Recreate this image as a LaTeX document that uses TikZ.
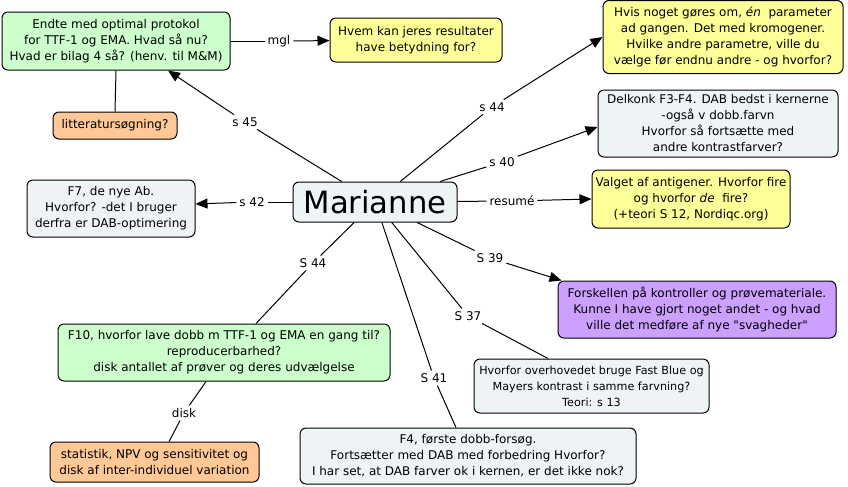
\documentclass[tikz,border=0pt]{standalone}
\usepackage{fontspec}
\setmainfont{DejaVu Sans}
\newfontfamily\qfont{DejaVu Sans}[Ligatures=ResetAll]
\usetikzlibrary{arrows.meta}
\definecolor{cgreen}{RGB}{204,255,204}
\definecolor{cyellow}{RGB}{255,255,153}
\definecolor{corange}{RGB}{255,200,150}
\definecolor{cgray}{RGB}{238,243,245}
\definecolor{cpurple}{RGB}{204,160,255}
\tikzset{
  box/.style={draw=black, line width=0.75pt, rounded corners=4.5pt, align=center,
    inner sep=0pt, font=\fontsize{9}{12}\selectfont},
  lbl/.style={inner sep=2pt, font=\fontsize{9}{11}\selectfont},
  link/.style={line width=0.75pt},
  arr/.style={line width=0.75pt, -{Triangle[length=9pt,width=7.5pt]}}
}
\begin{document}
\begin{tikzpicture}[x=0.75pt,y=-0.75pt]
\fill[white] (0,0) rectangle (848,486);
\useasboundingbox (0,0) rectangle (848,486);

% nodes
\node[box, fill=cgreen, minimum width=171pt, minimum height=43.5pt] (b1) at (116,41)
  {Endte med optimal protokol\\ for TTF-1 og EMA. Hvad så nu?\\ Hvad er bilag 4 så? (henv. til M\&M)};
\node[box, fill=cyellow, minimum width=129pt, minimum height=33pt] (b2) at (416,40)
  {Hvem kan jeres resultater\\ have betydning for?};
\node[box, fill=corange, minimum width=93pt, minimum height=20.25pt] (lit) at (115,125.5)
  {litteratursøgning?};
\node[box, fill=cyellow, minimum width=180pt, minimum height=54.75pt] (b4) at (723,37)
  {Hvis noget gøres om, \textit{én}\ \ parameter\\ ad gangen. Det med kromogener.\\ Hvilke andre parametre, ville du\\ vælge før endnu andre - og hvorfor?};
\node[box, fill=cgray, minimum width=180pt, minimum height=50.25pt] (b5) at (718,123.5)
  {Delkonk F3-F4. DAB bedst i kernerne\\ -også v dobb.farvn\\ Hvorfor så fortsætte med\\ andre kontrastfarver?};
\node[box, fill=cyellow, minimum width=148.5pt, minimum height=43.5pt] (b6) at (691,199)
  {Valget af antigener. Hvorfor fire\\ og hvorfor \textit{de}\ \ fire?\\ (+teori S 12, Nordiqc.org)};
\node[box, fill=cgray, minimum width=123pt, minimum height=30pt, font=\fontsize{23}{26}\selectfont] (M) at (375,202)
  {Marianne};
\node[box, fill=cgray, minimum width=126pt, minimum height=42.75pt] (f7) at (111,208.5)
  {F7, de nye Ab.\\ Hvorfor? -det I bruger\\ derfra er DAB-optimering};
\node[box, fill=cpurple, minimum width=208.5pt, minimum height=42.75pt] (pu) at (697,309.5)
  {Forskellen på kontroller og prøvemateriale.\\ Kunne I have gjort noget andet - og hvad\\ ville det medføre af nye {\qfont"}svagheder{\qfont"}};
\node[box, fill=cgray, minimum width=176.25pt, minimum height=40.5pt, font=\fontsize{8.4}{12}\selectfont] (hv) at (591.5,386)
  {Hvorfor overhovedet bruge Fast Blue og\\ Mayers kontrast i samme farvning?\\ Teori: s 13};
\node[box, fill=cgreen, minimum width=249pt, minimum height=42.75pt] (f10) at (224,352.5)
  {F10, hvorfor lave dobb m TTF-1 og EMA en gang til?\\ reproducerbarhed?\\ disk antallet af prøver og deres udvælgelse};
\node[box, fill=corange, minimum width=156.75pt, minimum height=30pt] (st) at (154.5,462)
  {statistik, NPV og sensitivitet og\\ disk af inter-individuel variation};
\node[box, fill=cgray, minimum width=252pt, minimum height=42pt] (f4) at (468,456)
  {F4, første dobb-forsøg.\\ Fortsætter med DAB med forbedring Hvorfor?\\ I har set, at DAB farver ok i kernen, er det ikke nok?};

% labels
\node[lbl] (lmgl) at (279,41) {mgl};
\node[lbl] (l45) at (245,122) {s 45};
\node[lbl] (l44a) at (492,107) {s 44};
\node[lbl] (l40) at (502,162) {s 40};
\node[lbl] (lres) at (512,201) {resumé};
\node[lbl] (l42) at (252,202) {s 42};
\node[lbl] (l39) at (490,258) {S 39};
\node[lbl] (l37) at (468,316) {S 37};
\node[lbl] (l41) at (434,378) {S 41};
\node[lbl] (l44b) at (313,263) {S 44};
\node[lbl] (ldisk) at (184,413) {disk};

% connectors
\draw[link] (b1) -- (lmgl);
\draw[arr] (lmgl) -- (b2);
\draw[link] (lit.north) -- (b1.south);

\draw[link] (M) -- (l45);
\draw[arr] (l45) -- ([xshift=39pt]b1.south);

\draw[link] (M) -- (l44a);
\draw[arr] (l44a) -- (b4.west);

\draw[link] (M) -- (l40);
\draw[arr] (l40) -- ([yshift=-2.6pt]b5.west);

\draw[link] (M) -- (lres);
\draw[arr] (lres) -- (b6.west);

\draw[link] (M) -- (l42);
\draw[arr] (l42) -- ([yshift=3.4pt]f7.east);

\draw[link] (M) -- (l39);
\draw[arr] (l39) -- ([xshift=3pt]pu.north west);

\draw[link] (M) -- (l37);
\draw[link] (l37) -- ([xshift=-32.6pt]hv.north);

\draw[link] (M) -- (l41);
\draw[link] (l41) -- ([xshift=-9pt]f4.north);

\draw[link] (M) -- (l44b);
\draw[link] (l44b) -- ([xshift=24pt]f10.north);

\draw[link] ([xshift=-13.5pt]f10.south) -- (ldisk);
\draw[link] (ldisk) -- ([xshift=10.9pt]st.north);
\end{tikzpicture}
\end{document}
